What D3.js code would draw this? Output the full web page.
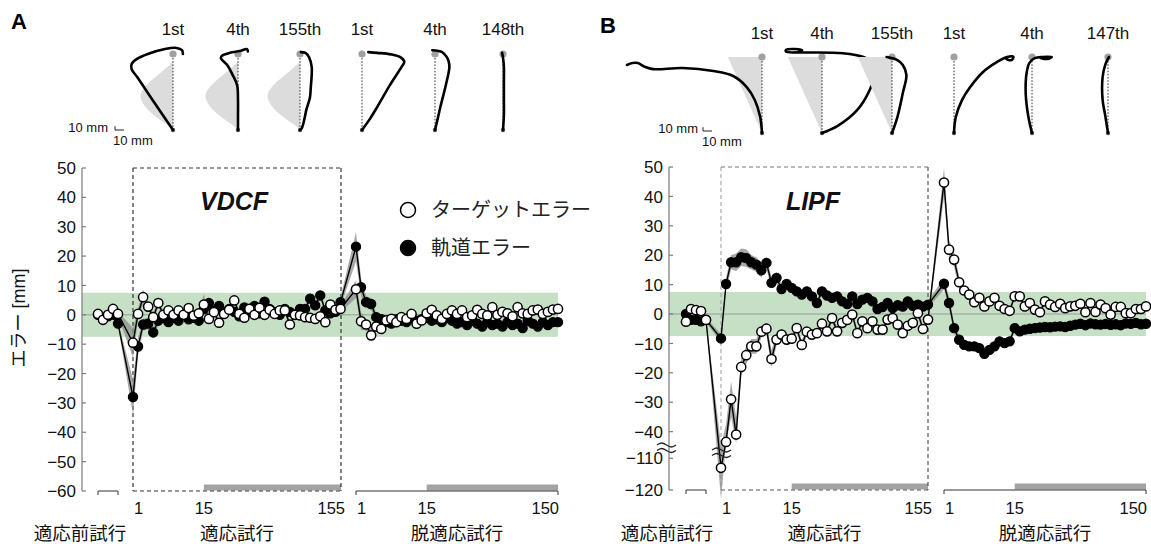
<!DOCTYPE html>
<html><head><meta charset="utf-8">
<script src="https://cdn.jsdelivr.net/npm/d3@7"></script>
<style>body{margin:0;background:#fff}svg{display:block}</style>
</head><body>
<svg id="c" width="1151" height="544"></svg>
<script>
// ================= DATA =================
const yTicksA = [50,40,30,20,10,0,-10,-20,-30,-40,-50,-60];
const yTicksB = [50,40,30,20,10,0,-10,-20,-30,-40,-110,-120];
const adaptTickLabels = ["1","15","155"], adaptTickIdx = [0,14,41];
const washTickLabels  = ["1","15","150"], washTickIdx  = [0,14,40];
const phaseLabels = ["適応前試行","適応試行","脱適応試行"];
const legendLabels = ["ターゲットエラー","軌道エラー"];
const fieldNames = ["VDCF","LIPF"];
const panelLetters = ["A","B"];
const sketchLabelsA = ["1st","4th","155th","1st","4th","148th"];
const sketchLabelsB = ["1st","4th","155th","1st","4th","147th"];
const toleranceBand = [-7.5, 7.5];

// Panel A — target error (white) and trajectory error (black), mm
const A_pre_target   = [0.3,-1.7,0,2,0.3];
const A_adapt_target = [-9.5,0.3,6,2.8,-0.8,4,0,1.5,0,1.5,0,2.3,-0.3,0.5,
  3.5,-1.4,0.9,-2.7,0.3,1.7,4.9,0.3,-1,2,0,2.4,0,1.7,0.3,1.5,1.5,-3.3,0,-0.2,-0.8,-1,-1.4,-0.5,-2.5,3.5,1.7,2];
const A_wash_target  = [8.7,-2.2,-3.3,-7,-4,-4.8,-1.9,-1.4,-2.5,-0.8,-1.4,0.3,-3,-1.9,0.5,1.7,-0.2,-1.4,0.3,1.5,
  0.3,1.5,-0.8,-0.2,1.7,0.3,-0.2,2.6,0,1,0.5,-0.5,2.6,0.5,0.3,1.5,1.8,0.3,1,1.8,2];
const A_pre_traj   = [0,-1,-0.5,0,-3];
const A_adapt_traj = [-28,-10.8,-3.3,-3,-6,-2,-1,-2.5,-1,-2,0,-1.5,-1,-2,
  2,4,1.5,3,0.5,2,1,-0.5,2.5,1,3,0.5,4.5,2,1,0,2,1,0,2,2,5.5,3.2,6.6,1.5,0.5,1,4.3];
const A_wash_traj  = [23.2,9.4,4.3,3.7,-0.8,-1.5,-2.5,-3,-1.5,-2,-2.5,-1,-2,-1.5,-1,-2,-1.5,-2.5,-1,-2,
  -3,-2.5,-3.5,-2,-3,-4,-2.5,-3.5,-3,-4,-2.5,-3.5,-3,-4.5,-2,-3,-4,-2.5,-3.5,-2.5,-2.5];
// standard errors (mm)
const A_pre_target_se   = [0.8,0.8,0.8,0.8,0.8];
const A_adapt_target_se = [5,2,2.5,1.5,1.5,1.5,1.2,1.2,1.2,1.2,1.2,1.2,1.2,1.2,
  3.5,1.2,1.2,1.2,1.2,1.2,2,1.2,1.2,1.2,1.2,1.2,1.2,1.2,1.2,1.2,1.2,1.2,1.2,1.2,1.2,1.2,1.2,1.2,1.2,1.2,1.5,1.2];
const A_wash_target_se  = [3,3,2,2,1.5,1.5,1.2,1.2,1.2,1.2,1.2,1.2,1.2,1.2,1,1,1,1,1,1,1,1,1,1,1,1,1,1,1,1,1,1,1,1,1,1,1,1,1,1,1];
const A_pre_traj_se     = [0.8,0.8,0.8,0.8,0.8];
const A_adapt_traj_se   = [6,3,2,2,2,1.5,1.5,1.5,1.5,1.5,1.5,1.5,1.5,1.5,
  1.5,1.5,1.2,1.2,1.2,1.2,1.2,1.2,1.2,1.2,1.2,1.2,1.5,1.2,1.2,1.2,1.2,1.2,1.2,1.2,1.2,1.5,1.5,1.5,1.2,1.2,1.2,1.5];
const A_wash_traj_se    = [5,3,2,2,1.5,1.2,1.2,1.2,1.2,1.2,1,1,1,1,1,1,1,1,1,1,1,1,1,1,1,1,1,1,1,1,1,1,1,1,1,1,1,1,1,1,1];

// Panel B
const B_pre_target   = [-2.6,1.7,1.3,1,-2];
const B_adapt_target = [-113,-43.5,-29,-41,-18,-14,-11,-11,-6,-5,-15.3,-8.7,-7,-8.7,
  -8.4,-4.8,-10.5,-6,-7,-6.5,-3.3,-5.9,-1.4,-5.9,-3,-2,-0.2,-6.5,-2.5,-4.8,-2.5,-5.3,-5.3,-1.9,-1.4,-3.6,-6.5,-4,-3,0.3,-5.1,-1.9];
const B_wash_target  = [44.7,21.9,18.5,10.8,8,6.6,4,5.5,2.6,4.3,5.5,2.8,1.7,1.1,6,6,2.6,3.75,1.5,0.6,
  4.3,3.2,2.4,3.5,2,2.6,2.8,3.5,0.6,3.75,0.7,3.2,2,-0.2,2.4,2.4,0.3,0.3,1.7,1.7,2.6];
const B_pre_traj   = [0,-2,-2,-2.5,-2];
const B_adapt_traj = [-8.3,10.2,17.6,17.6,19.3,19,17.6,16.8,14.9,17.4,10.6,12.3,8.5,10.2,
  8.9,7.7,6.6,7.7,6,3.75,7.7,6.3,5.5,6,4.3,3.4,6,3.4,4.9,5.5,4.3,1.7,2.4,3.75,2,3,2.5,4.3,2.8,3.2,2.5,3.2];
const B_wash_traj  = [10.3,3.75,-4.8,-8.75,-10.5,-11,-11,-11.6,-13.5,-12.2,-11,-9.3,-9.9,-9.3,-4.8,-5.9,-5.3,-5,-4.8,-4.6,
  -4.4,-4.5,-4.3,-4.2,-4.4,-4,-3.6,-3.3,-3.8,-3.2,-3.5,-3.6,-3.4,-3.7,-3.5,-3.8,-3.2,-3.3,-3,-3.5,-3.3];
const B_pre_target_se   = [0.8,0.8,0.8,0.8,0.8];
const B_adapt_target_se = [10,6,6,6,3,3,2.5,2.5,2,2,3,2,2,2,
  1.5,1.5,1.5,1.5,1.5,1.5,1.2,1.2,1.2,1.2,1.2,1.2,1.2,1.2,1.2,1.2,1.2,1.2,1.2,1.2,1.2,1.2,1.2,1.2,1.2,1.2,1.2,1.2];
const B_wash_target_se  = [5,3,2.5,2,1.5,1.5,1.2,1.2,1.2,1.2,1.2,1.2,1.2,1.2,1,1,1,1,1,1,1,1,1,1,1,1,1,1,1,1,1,1,1,1,1,1,1,1,1,1,1];
const B_pre_traj_se     = [0.8,0.8,0.8,0.8,0.8];
const B_adapt_traj_se   = [1.5,2,2.5,3,3,3,2.5,2.5,2.5,2,2,2,1.5,1.5,
  1.5,1.5,1.5,1.2,1.2,1.2,1.2,1.2,1.2,1.2,1.2,1.2,1.2,1.2,1.2,1.2,1.2,1.2,1.2,1.2,1.2,1.2,1.2,1.2,1.2,1.2,1.2,1.2];
const B_wash_traj_se    = [2,2,1.5,1.5,1.5,1.5,1.5,1.5,1.5,1.5,1.5,1.2,1.2,1.2,1,1,1,1,1,1,1,1,1,1,1,1,1,1,1,1,1,1,1,1,1,1,1,1,1,1,1];

// Hand-path sketches: [lateral mm, forward mm] from start to target (200 mm reach)
const trajA = [
  [[0,0],[-21,73],[-40,140],[-46,160],[-46,173],[-40,187],[-28,200],[-9,213],[4,216],[10,210],[11,200]],
  [[0,0],[0,40],[0,79],[-1,118],[-6,145],[-12,171],[-19,189],[-18,195],[-9,203],[2,208],[10,213],[11,207]],
  [[0,0],[2,5],[5,30],[7,53],[11,85],[12,113],[13,145],[13,166],[10,192],[6,203],[1,205]],
  [[0,0],[9,30],[17,61],[31,118],[44,166],[47,179],[43,191],[32,199],[17,203],[7,205]],
  [[0,0],[3,30],[6,61],[12,118],[16,166],[15,182],[13,192],[8,205],[-3,210]],
  [[0,0],[1,40],[1,79],[1,130],[1,166],[0,190],[-1,203]]
];
const trajB = [
  [[0,0],[-2,42],[-8,87],[-17,121],[-32,150],[-54,163],[-88,171],[-121,168],[-130,174],[-138,184],[-144,184],[-150,179]],
  [[0,0],[17,18],[39,60],[53,113],[58,153],[56,184],[46,200],[23,210],[-13,212],[-28,212],[-40,214],[-40,219],[-30,221],[-22,218],[-26,214]],
  [[0,0],[6,42],[12,105],[16,153],[12,179],[6,192],[-6,200]],
  [[0,0],[2,42],[9,87],[18,121],[32,160],[48,187],[59,200],[66,200],[64,192],[58,195],[60,200]],
  [[0,0],[-4,42],[-7,105],[-6,158],[-3,184],[3,197],[12,200],[22,200],[17,195],[10,197]],
  [[0,0],[-3,45],[-6,87],[-6,147],[-3,180],[1,200]]
];
// force-field profiles: [lateral mm, forward mm]
const fieldA = [[0,0],[-4,10],[-14,26],[-29,53],[-35,75],[-37,92],[-33,110],[-24,131],[-11,155],[0,180]];
const fieldB = [[0,0],[-38,200],[0,200]];
const fieldShownA = [true,true,true,false,false,false];
const fieldShownB = [true,true,true,false,false,false];

// ================= DRAW =================
const svg = d3.select("#c");
const FONT = "'Liberation Sans', Arial, Helvetica, sans-serif";
const JP = "'Noto Sans CJK JP', 'Noto Sans CJK SC', sans-serif";
const fmt = v => v < 0 ? "\u2212" + Math.abs(v) : String(v);

function sketchRow(anchors, startY, trajs, field, shown, labels, labelY){
  const sx = 0.9, sy = 0.38;
  trajs.forEach((t,i)=>{
    const ax = anchors[i];
    const x = d3.scaleLinear().domain([0,1]).range([ax, ax+sx]);
    const y = d3.scaleLinear().domain([0,1]).range([startY, startY-sy]);
    const g = svg.append("g");
    if (shown[i]) {
      const poly = field.map(p=>[x(p[0]), y(p[1])]);
      g.append("path").attr("d", d3.line().curve(field.length>3?d3.curveBasis:d3.curveLinear)(poly)+"Z")
        .attr("fill","#dcdcdc").attr("stroke","none");
    }
    g.append("line").attr("x1",x(0)).attr("x2",x(0)).attr("y1",y(0)).attr("y2",y(200))
      .attr("stroke","#333").attr("stroke-width",1).attr("stroke-dasharray","1.6,1.6");
    g.append("circle").attr("cx",x(0)).attr("cy",y(200)).attr("r",3.6).attr("fill","#a0a0a0");
    g.append("circle").attr("cx",x(0)).attr("cy",y(0)).attr("r",2.2).attr("fill","#555");
    g.append("path").attr("d", d3.line().curve(d3.curveCatmullRom.alpha(0.5))(t.map(p=>[x(p[0]),y(p[1])])))
      .attr("fill","none").attr("stroke","#000").attr("stroke-width",2.6)
      .attr("stroke-linecap","round").attr("stroke-linejoin","round");
    svg.append("text").attr("x",ax).attr("y",labelY).attr("text-anchor","middle")
      .attr("font-family",FONT).attr("font-size",17).attr("fill","#111").text(labels[i]);
  });
}

function scaleBar(x0, yb, t1x, t2x, t1y, t2y){
  const g = svg.append("g").attr("font-family",FONT).attr("font-size",13).attr("fill","#111");
  g.append("path").attr("d",`M${x0},${yb-3.8}V${yb}H${x0+9}`).attr("fill","none").attr("stroke","#222").attr("stroke-width",1);
  g.append("text").attr("x",t1x).attr("y",t1y).attr("text-anchor","end").text("10 mm");
  g.append("text").attr("x",t2x).attr("y",t2y).text("10 mm");
}

function panel(cfg, d){
  const y = cfg.y, yBot = y(cfg.yMin), yTop = y(50);
  const xPre = d3.scaleLinear().domain([0,d.preT.length-1]).range(cfg.pre);
  const xAd  = d3.scaleLinear().domain([0,d.adT.length-1]).range(cfg.adapt);
  const xWa  = d3.scaleLinear().domain([0,d.waT.length-1]).range(cfg.wash);
  const g = svg.append("g");
  // tolerance band & zero line
  g.append("rect").attr("x",cfg.axisX).attr("width",cfg.wash[1]-cfg.axisX)
    .attr("y",y(toleranceBand[1])).attr("height",y(toleranceBand[0])-y(toleranceBand[1]))
    .attr("fill","#c6e0c5");
  g.append("line").attr("x1",cfg.axisX).attr("x2",cfg.wash[1]).attr("y1",y(0)).attr("y2",y(0))
    .attr("stroke","#9a9a9a").attr("stroke-width",1);
  // gray bars (binned region)
  g.append("rect").attr("x",xAd(adaptTickIdx[1])).attr("width",cfg.boxRight-xAd(adaptTickIdx[1]))
    .attr("y",yBot-6.5).attr("height",6).attr("fill","#a3a3a3");
  g.append("rect").attr("x",xWa(washTickIdx[1])).attr("width",cfg.wash[1]-xWa(washTickIdx[1]))
    .attr("y",yBot-6.5).attr("height",6).attr("fill","#a3a3a3");
  // dashed box
  const bx0 = cfg.adapt[0], bx1 = cfg.boxRight;
  const dash = (x1,y1,x2,y2,c)=>g.append("line").attr("x1",x1).attr("y1",y1).attr("x2",x2).attr("y2",y2)
      .attr("stroke",c).attr("stroke-width",1.2).attr("stroke-dasharray","4,3");
  dash(bx0,yTop,bx1,yTop,cfg.boxTopColor);
  dash(bx0,yTop,bx0,yBot,cfg.boxLeftColor);
  dash(bx1,yTop,bx1,yBot,cfg.boxColor);
  dash(bx0,yBot,bx1,yBot,cfg.boxColor);
  // pre bracket and washout axis
  g.append("path").attr("d",`M${cfg.pre[0]},${yBot+4}V${yBot}H${cfg.pre[1]}V${yBot+4}`)
    .attr("fill","none").attr("stroke","#333").attr("stroke-width",1);
  g.append("path").attr("d",`M${cfg.wash[0]},${yBot+4}V${yBot}H${cfg.wash[1]}V${yBot+4}`)
    .attr("fill","none").attr("stroke","#333").attr("stroke-width",1);
  // y axis
  g.append("line").attr("x1",cfg.axisX).attr("x2",cfg.axisX).attr("y1",yTop).attr("y2",yBot)
    .attr("stroke","#7a7a7a").attr("stroke-width",1.2);
  cfg.ticks.forEach(t=>{
    g.append("line").attr("x1",cfg.axisX).attr("x2",cfg.axisX+4).attr("y1",y(t)).attr("y2",y(t))
      .attr("stroke","#7a7a7a").attr("stroke-width",1.2);
    g.append("text").attr("x",cfg.axisX-6).attr("y",y(t)).attr("dy","0.36em").attr("text-anchor","end")
      .attr("font-family",FONT).attr("font-size",17).attr("fill","#111").text(fmt(t));
  });
  // x tick labels
  const tl = (x,txt,anchor)=>g.append("text").attr("x",x).attr("y",514).attr("text-anchor",anchor)
      .attr("font-family",FONT).attr("font-size",16.5).attr("fill","#111").text(txt);
  tl(xAd(adaptTickIdx[0])+1, adaptTickLabels[0], "start");
  tl(xAd(adaptTickIdx[1]), adaptTickLabels[1], "middle");
  tl(cfg.boxRight+4, adaptTickLabels[2], "end");
  tl(xWa(washTickIdx[0])+1, washTickLabels[0], "start");
  tl(xWa(washTickIdx[1]), washTickLabels[1], "middle");
  tl(cfg.wash[1]+1, washTickLabels[2], "end");
  // phase labels
  const pl = (x,txt)=>g.append("text").attr("x",x).attr("y",539.5).attr("text-anchor","middle")
      .attr("font-family",JP).attr("font-size",18.5).attr("fill","#111").text(txt);
  pl(cfg.axisX-2, phaseLabels[0]);
  pl((bx0+bx1)/2, phaseLabels[1]);
  pl((cfg.wash[0]+cfg.wash[1])/2, phaseLabels[2]);
  // field name
  g.append("text").attr("x",cfg.fieldX).attr("y",210).attr("text-anchor","middle")
    .attr("font-family",FONT).attr("font-size",25).attr("font-weight","bold").attr("font-style","italic")
    .attr("fill","#111").text(cfg.fieldName);

  // series
  const build = (pre,ad,wa,ps,as,ws)=>{
    const out=[];
    pre.forEach((v,i)=>out.push({x:xPre(i),v,se:ps[i]}));
    ad.forEach((v,i)=>out.push({x:xAd(i),v,se:as[i]}));
    wa.forEach((v,i)=>out.push({x:xWa(i),v,se:ws[i]}));
    return out;
  };
  const sT = build(d.preT,d.adT,d.waT,d.preTse,d.adTse,d.waTse);
  const sJ = build(d.preJ,d.adJ,d.waJ,d.preJse,d.adJse,d.waJse);
  const area = d3.area().x(p=>p.x).y0(p=>y(p.v-p.se)).y1(p=>y(p.v+p.se));
  const line = d3.line().x(p=>p.x).y(p=>y(p.v));
  [sJ,sT].forEach(s=>g.append("path").attr("d",area(s)).attr("fill","#8c8c8c").attr("opacity",0.75));
  [sJ,sT].forEach(s=>g.append("path").attr("d",line(s)).attr("fill","none").attr("stroke","#000").attr("stroke-width",1.4));
  if (cfg.breaks) cfg.breaks(g);
  g.selectAll(null).data(sJ).enter().append("circle").attr("cx",p=>p.x).attr("cy",p=>y(p.v)).attr("r",4.6)
    .attr("fill","#000").attr("stroke","#000").attr("stroke-width",1.2);
  g.selectAll(null).data(sT).enter().append("circle").attr("cx",p=>p.x).attr("cy",p=>y(p.v)).attr("r",4.6)
    .attr("fill","#fff").attr("stroke","#000").attr("stroke-width",1.5);
}

function wave(g, x0, yc, w){
  const pts = [[x0,yc],[x0+w*0.25,yc-3],[x0+w*0.5,yc],[x0+w*0.75,yc+3],[x0+w,yc]];
  g.append("path").attr("d",d3.line().curve(d3.curveBasis)(pts)).attr("fill","none")
    .attr("stroke","#222").attr("stroke-width",1.3);
}

// Panel A
const yA = d3.scaleLinear().domain([-60,50]).range([491,168]);
panel({y:yA,yMin:-60,ticks:yTicksA,axisX:82,pre:[98,118],adapt:[133,340.5],wash:[356,558],boxRight:341,
  boxColor:"#333",boxTopColor:"#333",boxLeftColor:"#333",fieldName:fieldNames[0],fieldX:234},
  {preT:A_pre_target,adT:A_adapt_target,waT:A_wash_target,preJ:A_pre_traj,adJ:A_adapt_traj,waJ:A_wash_traj,
   preTse:A_pre_target_se,adTse:A_adapt_target_se,waTse:A_wash_target_se,preJse:A_pre_traj_se,adJse:A_adapt_traj_se,waJse:A_wash_traj_se});

// Panel B (broken axis)
const yB = d3.scaleLinear().domain([-120,-106,-44,50]).range([490,445.6,443.4,167]);
panel({y:yB,yMin:-120,ticks:yTicksB,axisX:669,pre:[686,706],adapt:[721,928],wash:[944,1146],boxRight:928,
  boxColor:"#555",boxTopColor:"#777",boxLeftColor:"#aaa",fieldName:fieldNames[1],fieldX:813,
  breaks:g=>{ wave(g,657,445,19); wave(g,657,450.5,19); wave(g,712,450,19); wave(g,712,455.5,19); }},
  {preT:B_pre_target,adT:B_adapt_target,waT:B_wash_target,preJ:B_pre_traj,adJ:B_adapt_traj,waJ:B_wash_traj,
   preTse:B_pre_target_se,adTse:B_adapt_target_se,waTse:B_wash_target_se,preJse:B_pre_traj_se,adJse:B_adapt_traj_se,waJse:B_wash_traj_se});

// sketches
sketchRow([173,238,300,362,435,503],130,trajA,fieldA,fieldShownA,sketchLabelsA,35);
sketchRow([762,822,892,954,1032,1108],133,trajB,fieldB,fieldShownB,sketchLabelsB,39);
scaleBar(115,130,108,113,132,145);
scaleBar(703,131,698,702,133,146);

// legend (panel A)
const lg = svg.append("g");
[[210,"#fff"],[248,"#000"]].forEach((r,i)=>{
  lg.append("circle").attr("cx",408).attr("cy",r[0]).attr("r",7.5).attr("fill",r[1]).attr("stroke","#000").attr("stroke-width",1.5);
  lg.append("text").attr("x",431).attr("y",r[0]).attr("dy","0.36em").attr("font-family",JP).attr("font-size",20)
    .attr("fill","#222").text(legendLabels[i]);
});

// y label
const yl = svg.append("text").attr("transform","translate(25,318) rotate(-90)").attr("text-anchor","middle")
  .attr("font-size",18).attr("fill","#111");
yl.append("tspan").attr("font-family",JP).text("エラー");
yl.append("tspan").attr("font-family",FONT).text("  [mm]");

// panel letters
svg.append("text").attr("x",11).attr("y",29).attr("font-family",FONT).attr("font-weight","bold").attr("font-size",22).text(panelLetters[0]);
svg.append("text").attr("x",600).attr("y",33).attr("font-family",FONT).attr("font-weight","bold").attr("font-size",22).text(panelLetters[1]);
</script>
</body></html>
